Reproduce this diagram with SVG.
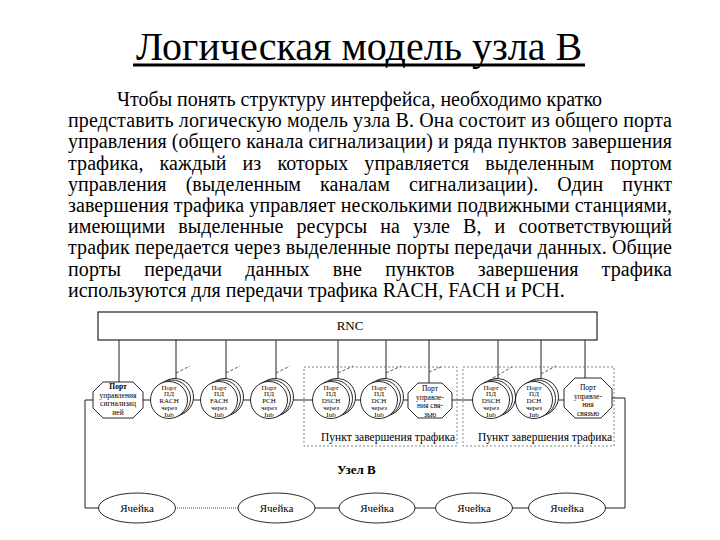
<svg xmlns="http://www.w3.org/2000/svg" width="720" height="540" viewBox="0 0 720 540">
<style>
.t{font-family:"Liberation Serif","Times New Roman",serif;fill:#000}
.p{font-size:20px}
.n{font-size:7px;text-anchor:middle}
.o{font-size:7.5px;text-anchor:middle}
.c{font-size:11px;text-anchor:middle}
.ln{stroke:#222;stroke-width:1;fill:none}
.dg{stroke:#333;stroke-width:0.8;stroke-dasharray:3,2;fill:none}
.db{stroke:#666;stroke-width:0.8;stroke-dasharray:2,2;fill:none}
.sh{fill:#fff;stroke:#111;stroke-width:0.9}
</style>
<defs>
<g id="stack">
<circle cx="6" cy="-3" r="18.5" class="sh"/>
<circle cx="3" cy="-1.5" r="18.5" class="sh"/>
<circle cx="0" cy="0" r="18.5" class="sh"/>
</g>
</defs>
<rect width="720" height="540" fill="#fff"/>

<g id="title">
<text class="t" x="359" y="60" font-size="40" text-anchor="middle">Логическая модель узла В</text>
<rect x="133" y="63.5" width="452" height="3" fill="#000"/>
</g>

<g id="paragraph" class="t p">
<text x="117" y="106">Чтобы понять структуру интерфейса, необходимо кратко</text>
<text x="68" y="127.2" textLength="604" lengthAdjust="spacing">представить логическую модель узла В. Она состоит из общего порта</text>
<text x="68" y="148.4" textLength="604" lengthAdjust="spacing">управления (общего канала сигнализации) и ряда пунктов завершения</text>
<text x="68" y="169.6" textLength="604" lengthAdjust="spacing" word-spacing="11">трафика, каждый из которых управляется выделенным портом</text>
<text x="68" y="190.8" textLength="604" lengthAdjust="spacing" word-spacing="14">управления (выделенным каналам сигнализации). Один пункт</text>
<text x="68" y="212" textLength="604" lengthAdjust="spacing">завершения трафика управляет несколькими подвижными станциями,</text>
<text x="68" y="233.2" textLength="604" lengthAdjust="spacing" word-spacing="8">имеющими выделенные ресурсы на узле В, и соответствующий</text>
<text x="68" y="254.4" textLength="604" lengthAdjust="spacing">трафик передается через выделенные порты передачи данных. Общие</text>
<text x="68" y="275.6" textLength="604" lengthAdjust="spacing" word-spacing="18">порты передачи данных вне пунктов завершения трафика</text>
<text x="68" y="296.8">используются для передачи трафика RACH, FACH и PCH.</text>
</g>

<g id="connectors">
<path class="ln" d="M119 340V382M176 340V380M226 340V380M276 340V380M338 340V380M386 340V380M429 340V383M498 340V380M541 340V380M585 340V378"/>
<path class="ln" d="M143 400H564"/>
<path class="ln" d="M93 400H85V508H99"/>
<path class="ln" d="M612 398H625V508H605"/>
<path class="ln" d="M315 508H339M415 508H436M512 508H529"/>
<path d="M175 508H238" stroke="#333" stroke-width="0.9" stroke-dasharray="1,1" fill="none"/>
<path class="dg" d="M176 373L190 366M226 373L240 366M276 373L290 366M338 373L353 366M386 373L401 366M429 372L441 367M493 378L512 367M541 374L556 366"/>
</g>

<g id="node-rnc">
<rect x="98" y="312" width="499" height="28" fill="#fff" stroke="#222" stroke-width="1.2"/>
<text class="t" x="350" y="330" font-size="13" text-anchor="middle">RNC</text>
</g>

<g id="tp1">
<rect class="db" x="304" y="367" width="153" height="79"/>
<text class="t" x="455" y="441" font-size="11.5" text-anchor="end">Пункт завершения трафика</text>
</g>
<g id="tp2">
<rect class="db" x="463" y="367" width="151" height="79"/>
<text class="t" x="612" y="441" font-size="11.5" text-anchor="end">Пункт завершения трафика</text>
</g>

<g id="node-ctrl1">
<polygon class="sh" points="103,382 133,382 143,392 143,408 133,418 103,418 93,408 93,392"/>
<text class="t o" x="118" y="389"><tspan font-weight="bold">Порт</tspan><tspan x="118" dy="8.5">управления</tspan><tspan x="118" dy="8.5">сигнализац</tspan><tspan x="118" dy="8.5">ией</tspan></text>
</g>

<g id="node-rach">
<use href="#stack" x="169" y="400"/>
<text class="t n" x="169" y="389.5">Порт<tspan x="169" dy="6.8">ПД</tspan><tspan x="169" dy="6.8">RACH</tspan><tspan x="169" dy="6.8">через</tspan><tspan x="169" dy="6.8">Iub</tspan></text>
</g>
<g id="node-fach">
<use href="#stack" x="219" y="400"/>
<text class="t n" x="219" y="389.5">Порт<tspan x="219" dy="6.8">ПД</tspan><tspan x="219" dy="6.8">FACH</tspan><tspan x="219" dy="6.8">через</tspan><tspan x="219" dy="6.8">Iub</tspan></text>
</g>
<g id="node-pch">
<use href="#stack" x="269" y="400"/>
<text class="t n" x="269" y="389.5">Порт<tspan x="269" dy="6.8">ПД</tspan><tspan x="269" dy="6.8">PCH</tspan><tspan x="269" dy="6.8">через</tspan><tspan x="269" dy="6.8">Iub</tspan></text>
</g>

<g id="node-dsch1">
<use href="#stack" x="331" y="400"/>
<text class="t n" x="331" y="389.5">Порт<tspan x="331" dy="6.8">ПД</tspan><tspan x="331" dy="6.8">DSCH</tspan><tspan x="331" dy="6.8">через</tspan><tspan x="331" dy="6.8">Iub</tspan></text>
</g>
<g id="node-dch1">
<use href="#stack" x="379" y="400"/>
<text class="t n" x="379" y="389.5">Порт<tspan x="379" dy="6.8">ПД</tspan><tspan x="379" dy="6.8">DCH</tspan><tspan x="379" dy="6.8">через</tspan><tspan x="379" dy="6.8">Iub</tspan></text>
</g>
<g id="node-ctrl2">
<polygon class="sh" points="418,383 442,383 452,393 452,408 442,418 418,418 408,408 408,393"/>
<text class="t o" x="430" y="391">Порт<tspan x="430" dy="8.5">управле-</tspan><tspan x="430" dy="8.5">ния свя-</tspan><tspan x="430" dy="8.5">зью</tspan></text>
</g>

<g id="node-dsch2">
<use href="#stack" x="491" y="400"/>
<text class="t n" x="491" y="389.5">Порт<tspan x="491" dy="6.8">ПД</tspan><tspan x="491" dy="6.8">DSCH</tspan><tspan x="491" dy="6.8">через</tspan><tspan x="491" dy="6.8">Iub</tspan></text>
</g>
<g id="node-dch2">
<use href="#stack" x="534" y="400"/>
<text class="t n" x="534" y="389.5">Порт<tspan x="534" dy="6.8">ПД</tspan><tspan x="534" dy="6.8">DCH</tspan><tspan x="534" dy="6.8">через</tspan><tspan x="534" dy="6.8">Iub</tspan></text>
</g>
<g id="node-ctrl3">
<polygon class="sh" points="575,378 601,378 612,389 612,407 601,418 575,418 564,407 564,389"/>
<text class="t o" x="588" y="390">Порт<tspan x="588" dy="8.5">управле-</tspan><tspan x="588" dy="8.5">ния</tspan><tspan x="588" dy="8.5">связью</tspan></text>
</g>

<g id="nodeb-label">
<text class="t" x="337" y="474" font-size="13" font-weight="bold">Узел В</text>
</g>

<g id="cell1"><ellipse class="sh" cx="137" cy="508" rx="38.5" ry="15"/><text class="t c" x="137" y="512">Ячейка</text></g>
<g id="cell2"><ellipse class="sh" cx="276.5" cy="508" rx="38.5" ry="15"/><text class="t c" x="276.5" y="512">Ячейка</text></g>
<g id="cell3"><ellipse class="sh" cx="377" cy="508" rx="38" ry="15"/><text class="t c" x="377" y="512">Ячейка</text></g>
<g id="cell4"><ellipse class="sh" cx="474" cy="508" rx="38.5" ry="15"/><text class="t c" x="474" y="512">Ячейка</text></g>
<g id="cell5"><ellipse class="sh" cx="567" cy="508" rx="38.5" ry="15"/><text class="t c" x="567" y="512">Ячейка</text></g>
</svg>
